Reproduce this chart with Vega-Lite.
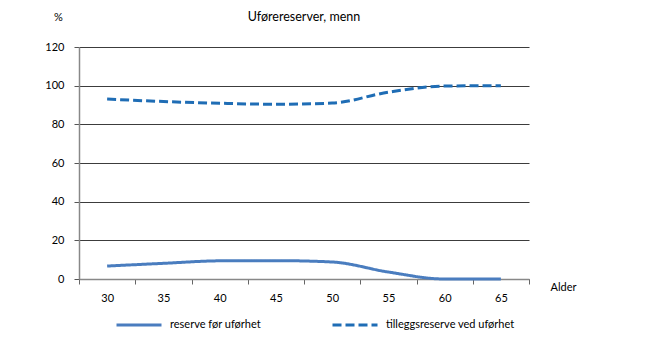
{
  "$schema": "https://vega.github.io/schema/vega-lite/v6.json",
  "width": 450,
  "height": 232,
  "autosize": {"type": "none"},
  "padding": {"left": 79, "top": 47, "right": 121, "bottom": 64},
  "background": "white",
  "config": {
    "font": "Lato",
    "view": {"stroke": null}
  },
  "title": {
    "text": "Uførereserver, menn",
    "anchor": "middle",
    "fontSize": 12.5,
    "fontWeight": "normal",
    "font": "Lato",
    "color": "#000",
    "offset": -12
  },
  "data": {
    "values": [
      {"alder": "30", "serie": "reserve før uførhet", "verdi": 6.7},
      {"alder": "35", "serie": "reserve før uførhet", "verdi": 8.1},
      {"alder": "40", "serie": "reserve før uførhet", "verdi": 9.4},
      {"alder": "45", "serie": "reserve før uførhet", "verdi": 9.5},
      {"alder": "50", "serie": "reserve før uførhet", "verdi": 8.8},
      {"alder": "55", "serie": "reserve før uførhet", "verdi": 3.6},
      {"alder": "60", "serie": "reserve før uførhet", "verdi": 0},
      {"alder": "65", "serie": "reserve før uførhet", "verdi": 0},
      {"alder": "30", "serie": "tilleggsreserve ved uførhet", "verdi": 93.1},
      {"alder": "35", "serie": "tilleggsreserve ved uførhet", "verdi": 91.8},
      {"alder": "40", "serie": "tilleggsreserve ved uførhet", "verdi": 90.9},
      {"alder": "45", "serie": "tilleggsreserve ved uførhet", "verdi": 90.4},
      {"alder": "50", "serie": "tilleggsreserve ved uførhet", "verdi": 91.0},
      {"alder": "55", "serie": "tilleggsreserve ved uførhet", "verdi": 96.6},
      {"alder": "60", "serie": "tilleggsreserve ved uførhet", "verdi": 99.8},
      {"alder": "65", "serie": "tilleggsreserve ved uførhet", "verdi": 100}
    ]
  },
  "mark": {"type": "line", "strokeWidth": 3, "interpolate": "monotone"},
  "encoding": {
    "x": {
      "field": "alder",
      "type": "ordinal",
      "bandPosition": 0.5,
      "scale": {"type": "band", "paddingInner": 0, "paddingOuter": 0},
      "axis": {
        "title": "Alder",
        "titleX": 471,
        "titleY": 8,
        "titleAlign": "left",
        "titleBaseline": "middle",
        "titleAnchor": null,
        "titleFontSize": 11,
        "titleFontWeight": "normal",
        "titleColor": "#000",
        "labelAngle": 0,
        "labelFontSize": 11,
        "labelColor": "#000",
        "labelPadding": 8,
        "tickBand": "extent",
        "tickSize": 5,
        "tickColor": "#666",
        "domainColor": "#888",
        "domainWidth": 1.5,
        "grid": false
      }
    },
    "y": {
      "field": "verdi",
      "type": "quantitative",
      "scale": {"domain": [0, 120], "nice": false, "zero": true},
      "axis": {
        "values": [0, 20, 40, 60, 80, 100, 120],
        "title": "%",
        "titleAngle": 0,
        "titleX": -21,
        "titleY": -30,
        "titleAlign": "center",
        "titleBaseline": "middle",
        "titleFontSize": 11,
        "titleFontWeight": "normal",
        "titleColor": "#000",
        "labelFontSize": 11,
        "labelColor": "#000",
        "labelPadding": 10,
        "tickSize": 5,
        "tickColor": "#555",
        "domainColor": "#888",
        "domainWidth": 1.5,
        "grid": true,
        "gridColor": "#3c3c3c",
        "gridWidth": 1.2
      }
    },
    "color": {
      "field": "serie",
      "type": "nominal",
      "scale": {"domain": ["reserve før uførhet", "tilleggsreserve ved uførhet"], "range": ["#4a7dbf", "#1f6db5"]},
      "legend": {
        "title": null,
        "orient": "none",
        "direction": "horizontal",
        "legendX": 36,
        "legendY": 254,
        "symbolType": "stroke",
        "symbolSize": 2025,
        "symbolStrokeWidth": 3,
        "symbolOffset": 0,
        "labelFontSize": 11,
        "labelColor": "#000",
        "labelOffset": 7,
        "columnPadding": 65
      }
    },
    "strokeDash": {
      "field": "serie",
      "type": "nominal",
      "scale": {"domain": ["reserve før uførhet", "tilleggsreserve ved uførhet"], "range": [[1, 0], [9, 4]]},
      "legend": null
    }
  }
}
